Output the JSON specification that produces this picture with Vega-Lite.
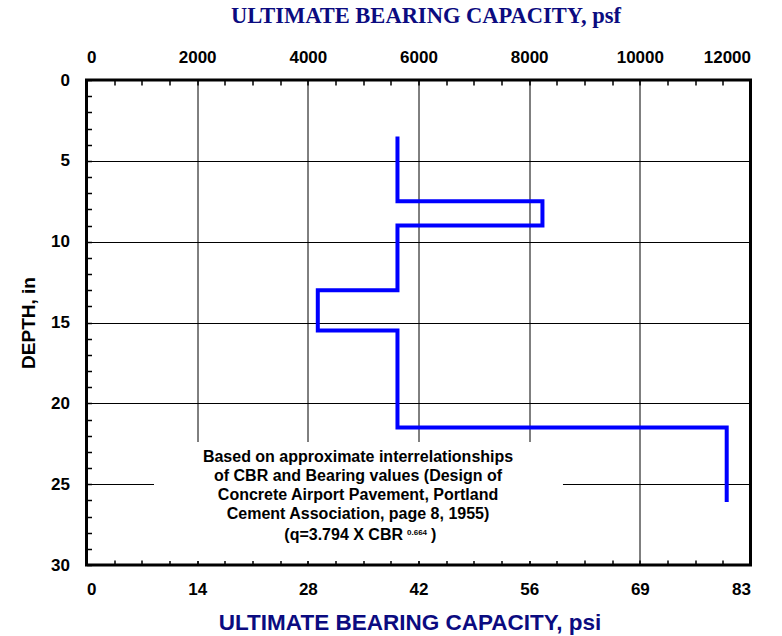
{
  "$schema": "https://vega.github.io/schema/vega-lite/v6.json",
  "width": 664,
  "height": 485,
  "autosize": "none",
  "padding": {"left": 86.5, "top": 80, "right": 31.5, "bottom": 71},
  "background": "white",
  "data": {"values": [{}]},
  "config": {
    "view": {"stroke": "black", "strokeWidth": 3},
    "axis": {
      "labelFont": "Liberation Sans",
      "labelFontWeight": "bold",
      "labelFontSize": 17,
      "labelColor": "black",
      "titleFont": "Liberation Sans",
      "titleFontWeight": "bold",
      "domain": false,
      "gridColor": "black",
      "gridWidth": 1,
      "tickColor": "black",
      "tickWidth": 1.5,
      "tickSize": 5
    }
  },
  "datasets": {
    "profile": [
      {"i": 1, "psf": 5620, "depth": 3.5},
      {"i": 2, "psf": 5620, "depth": 7.5},
      {"i": 3, "psf": 8240, "depth": 7.5},
      {"i": 4, "psf": 8240, "depth": 9.0},
      {"i": 5, "psf": 5620, "depth": 9.0},
      {"i": 6, "psf": 5620, "depth": 13.0},
      {"i": 7, "psf": 4180, "depth": 13.0},
      {"i": 8, "psf": 4180, "depth": 15.5},
      {"i": 9, "psf": 5620, "depth": 15.5},
      {"i": 10, "psf": 5620, "depth": 21.5},
      {"i": 11, "psf": 11570, "depth": 21.5},
      {"i": 12, "psf": 11570, "depth": 26.1}
    ]
  },
  "resolve": {"axis": {"x": "independent", "y": "independent"}},
  "layer": [
    {
      "mark": {"type": "rect", "fill": "white", "strokeWidth": 0},
      "encoding": {
        "x": {
          "datum": 1220,
          "type": "quantitative",
          "scale": {"domain": [0, 12000], "nice": false, "zero": true},
          "axis": {
            "orient": "bottom",
            "offset": -5,
            "values": [0, 500, 1000, 1500, 2000, 2500, 3000, 3500, 4000, 4500, 5000, 5500, 6000, 6500, 7000, 7500, 8000, 8500, 9000, 9500, 10000, 10500, 11000, 11500, 12000],
            "labelExpr": "datum.value % 2000 === 0 ? format(round(datum.value / 144), 'd') : ''",
            "grid": false,
            "labelPadding": 16,
            "title": "ULTIMATE BEARING CAPACITY, psi",
            "titleFontSize": 22.5,
            "titleColor": "#0B0B80",
            "titlePadding": 14,
            "titleX": 323
          }
        },
        "x2": {"datum": 8611},
        "y": {
          "datum": 22.39,
          "type": "quantitative",
          "scale": {"domain": [0, 30], "reverse": true, "nice": false, "zero": true},
          "axis": {
            "orient": "left",
            "offset": -5,
            "values": [0, 1, 2, 3, 4, 5, 6, 7, 8, 9, 10, 11, 12, 13, 14, 15, 16, 17, 18, 19, 20, 21, 22, 23, 24, 25, 26, 27, 28, 29, 30],
            "labelExpr": "datum.value % 5 === 0 ? datum.label : ''",
            "grid": true,
            "gridOpacity": {"condition": {"test": "datum.value % 5 === 0", "value": 1}, "value": 0},
            "labelPadding": 17,
            "title": "DEPTH, in",
            "titleFontSize": 19,
            "titleColor": "black",
            "titlePadding": 12
          }
        },
        "y2": {"datum": 29.75}
      }
    },
    {
      "data": {"name": "profile"},
      "mark": {"type": "line", "color": "#0000FF", "strokeWidth": 4, "strokeJoin": "miter", "strokeCap": "butt"},
      "encoding": {
        "x": {
          "field": "psf",
          "type": "quantitative",
          "axis": {
            "orient": "top",
            "offset": -5,
            "values": [0, 500, 1000, 1500, 2000, 2500, 3000, 3500, 4000, 4500, 5000, 5500, 6000, 6500, 7000, 7500, 8000, 8500, 9000, 9500, 10000, 10500, 11000, 11500, 12000],
            "format": "d",
            "labelExpr": "datum.value % 2000 === 0 ? datum.label : ''",
            "grid": true,
            "gridOpacity": {"condition": {"test": "datum.value % 2000 === 0", "value": 1}, "value": 0},
            "labelPadding": 14,
            "title": "ULTIMATE BEARING CAPACITY, psf",
            "titleFont": "Liberation Serif",
            "titleFontSize": 22.5,
            "titleColor": "#0B0B80",
            "titlePadding": 21,
            "titleX": 339
          }
        },
        "y": {"field": "depth", "type": "quantitative", "axis": null},
        "order": {"field": "i", "type": "quantitative"}
      }
    },
    {
      "mark": {
        "type": "text",
        "text": ["Based on approximate interrelationships", "of CBR and Bearing values (Design of", "Concrete Airport Pavement, Portland", "Cement Association, page 8, 1955)"],
        "font": "Liberation Sans",
        "fontWeight": "bold",
        "fontSize": 16,
        "lineHeight": 19,
        "align": "center",
        "baseline": "alphabetic",
        "color": "black"
      },
      "encoding": {
        "x": {"datum": 4907, "type": "quantitative", "axis": null},
        "y": {"datum": 23.63, "type": "quantitative", "axis": null}
      }
    },
    {
      "mark": {"type": "text", "text": "(q=3.794 X CBR", "font": "Liberation Sans", "fontWeight": "bold", "fontSize": 16, "align": "right", "baseline": "alphabetic", "dx": 45, "color": "black"},
      "encoding": {
        "x": {"datum": 4907, "type": "quantitative", "axis": null},
        "y": {"datum": 28.45, "type": "quantitative", "axis": null}
      }
    },
    {
      "mark": {"type": "text", "text": "0.664", "font": "Liberation Sans", "fontWeight": "bold", "fontSize": 8, "align": "left", "baseline": "alphabetic", "dx": 49, "dy": -5, "color": "black"},
      "encoding": {
        "x": {"datum": 4907, "type": "quantitative", "axis": null},
        "y": {"datum": 28.45, "type": "quantitative", "axis": null}
      }
    },
    {
      "mark": {"type": "text", "text": ")", "font": "Liberation Sans", "fontWeight": "bold", "fontSize": 16, "align": "left", "baseline": "alphabetic", "dx": 73, "color": "black"},
      "encoding": {
        "x": {"datum": 4907, "type": "quantitative", "axis": null},
        "y": {"datum": 28.45, "type": "quantitative", "axis": null}
      }
    }
  ]
}
